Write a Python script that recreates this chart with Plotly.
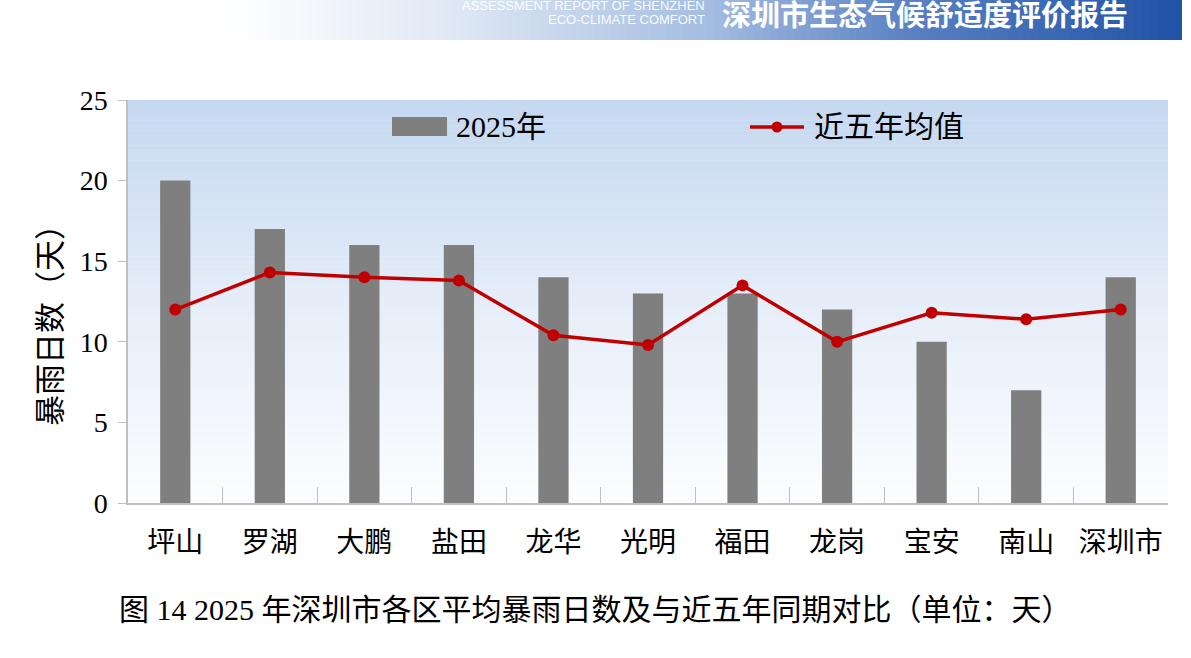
import plotly.graph_objects as go

# ---------------- data ----------------
categories = ["坪山", "罗湖", "大鹏", "盐田", "龙华", "光明", "福田", "龙岗", "宝安", "南山", "深圳市"]
values_2025 = [20, 17, 16, 16, 14, 13, 13, 12, 10, 7, 14]
values_avg5 = [12.0, 14.3, 14.0, 13.8, 10.4, 9.8, 13.5, 10.0, 11.8, 11.4, 12.0]
y_ticks = [0, 5, 10, 15, 20, 25]
series_names = ["2025年", "近五年均值"]
y_title = "暴雨日数（天）"
caption = "图 14 2025 年深圳市各区平均暴雨日数及与近五年同期对比（单位：天）"
banner_cn = "深圳市生态气候舒适度评价报告"
banner_en = ["ASSESSMENT REPORT OF SHENZHEN", "ECO-CLIMATE COMFORT"]

# ---------------- layout geometry ----------------
W, H = 1191, 658
ML, MR, MT, MB = 128, 23, 100, 155
PW = W - ML - MR
PH = H - MT - MB


def px(x):
    return (x - ML) / PW


def py(y):
    return (H - MB - y) / PH


SERIF = "Liberation Serif, 'Noto Sans CJK SC', serif"
CJK = "'Noto Sans CJK SC', sans-serif"
BAR_COLOR = "#7f7f7f"
LINE_COLOR = "#c00000"
AXIS_COLOR = "#bfbfbf"


def lerp(c1, c2, t):
    return tuple(round(a + (b - a) * t) for a, b in zip(c1, c2))


def piecewise(stops, t):
    for (t0, c0), (t1, c1) in zip(stops, stops[1:]):
        if t <= t1:
            return lerp(c0, c1, (t - t0) / (t1 - t0) if t1 > t0 else 0)
    return stops[-1][1]


shapes = []

# plot-area vertical gradient (light blue top -> white bottom)
n = 80
bg_stops = [(0.0, (196, 216, 240)), (0.55, (232, 239, 249)), (1.0, (252, 253, 255))]
for i in range(n):
    t = (i + 0.5) / n
    c = piecewise(bg_stops, t)
    shapes.append(dict(type="rect", xref="paper", yref="paper",
                       x0=0, x1=1, y0=1 - (i + 1) / n - 0.001, y1=1 - i / n,
                       fillcolor="rgb(%d,%d,%d)" % c, line=dict(width=0), layer="below"))

# header banner horizontal gradient
bx0, bx1, by0, by1 = 230, 1182, 0, 40
nb = 120
band_stops = [(0.0, (255, 255, 255)), (0.25, (220, 230, 243)), (0.5, (165, 189, 225)),
              (0.72, (88, 128, 194)), (1.0, (32, 82, 166))]
for i in range(nb):
    t = (i + 0.5) / nb
    c = piecewise(band_stops, t)
    xa = bx0 + (bx1 - bx0) * i / nb
    xb = bx0 + (bx1 - bx0) * (i + 1) / nb + 0.8
    shapes.append(dict(type="rect", xref="paper", yref="paper",
                       x0=px(xa), x1=px(min(xb, bx1)), y0=py(by1), y1=py(by0),
                       fillcolor="rgb(%d,%d,%d)" % c, line=dict(width=0), layer="below"))

# manual legend
leg_y = 127
shapes.append(dict(type="rect", xref="paper", yref="paper",
                   x0=px(392), x1=px(447), y0=py(136), y1=py(117),
                   fillcolor=BAR_COLOR, line=dict(width=0)))
shapes.append(dict(type="line", xref="paper", yref="paper",
                   x0=px(750), x1=px(804), y0=py(leg_y), y1=py(leg_y),
                   line=dict(color=LINE_COLOR, width=3.5)))
shapes.append(dict(type="circle", xref="paper", yref="paper",
                   x0=px(771.5), x1=px(782.5), y0=py(132.5), y1=py(121.5),
                   fillcolor=LINE_COLOR, line=dict(width=0)))

annotations = [
    dict(text=series_names[0], x=px(454), y=py(leg_y), xref="paper", yref="paper",
         xanchor="left", yanchor="middle", showarrow=False,
         font=dict(family=SERIF, size=30, color="#000")),
    dict(text=series_names[1], x=px(812), y=py(leg_y), xref="paper", yref="paper",
         xanchor="left", yanchor="middle", showarrow=False,
         font=dict(family=SERIF, size=30, color="#000")),
    dict(text=y_title, x=px(50), y=py(318), xref="paper", yref="paper",
         xanchor="center", yanchor="middle", textangle=-90, showarrow=False,
         font=dict(family=SERIF, size=31, color="#000")),
    dict(text=caption, x=px(595), y=py(609), xref="paper", yref="paper",
         xanchor="center", yanchor="middle", showarrow=False,
         font=dict(family=SERIF, size=30, color="#000")),
    dict(text=banner_cn, x=px(720), y=py(13), xref="paper", yref="paper",
         xanchor="left", yanchor="middle", showarrow=False,
         font=dict(family=CJK, size=29, color="#ffffff", weight="bold")),
    dict(text=banner_en[0], x=px(707), y=py(5), xref="paper", yref="paper",
         xanchor="right", yanchor="middle", showarrow=False,
         font=dict(family="'Liberation Sans Narrow', 'Liberation Sans', sans-serif",
                   size=13, color="rgba(255,255,255,0.95)")),
    dict(text=banner_en[1], x=px(707), y=py(19), xref="paper", yref="paper",
         xanchor="right", yanchor="middle", showarrow=False,
         font=dict(family="'Liberation Sans Narrow', 'Liberation Sans', sans-serif",
                   size=13, color="rgba(255,255,255,0.95)")),
]

fig = go.Figure()
fig.add_trace(go.Bar(x=categories, y=values_2025, name=series_names[0],
                     marker=dict(color=BAR_COLOR, line=dict(width=0)), width=0.32))
fig.add_trace(go.Scatter(x=categories, y=values_avg5, name=series_names[1],
                         mode="lines+markers",
                         line=dict(color=LINE_COLOR, width=3.5),
                         marker=dict(color=LINE_COLOR, size=12)))

fig.update_layout(
    width=W, height=H,
    margin=dict(l=ML, r=MR, t=MT, b=MB, pad=0),
    paper_bgcolor="#ffffff",
    plot_bgcolor="rgba(0,0,0,0)",
    showlegend=False,
    shapes=shapes,
    annotations=annotations,
    xaxis=dict(range=[-0.5, 10.5], showline=True, linecolor=AXIS_COLOR, linewidth=1.5,
               ticks="inside", tickson="boundaries", ticklen=16, tickcolor=AXIS_COLOR,
               tickwidth=1.2, showgrid=False, zeroline=False,
               tickfont=dict(family=SERIF, size=28, color="#000"), ticklabelstandoff=14),
    yaxis=dict(range=[0, 25], tickvals=y_ticks, showline=True, linecolor=AXIS_COLOR,
               linewidth=1.5, ticks="outside", ticklen=8, tickcolor=AXIS_COLOR,
               tickwidth=1.2, showgrid=False, zeroline=False,
               tickfont=dict(family=SERIF, size=28, color="#000"), ticklabelstandoff=5),
)

fig.write_html("out.html")
